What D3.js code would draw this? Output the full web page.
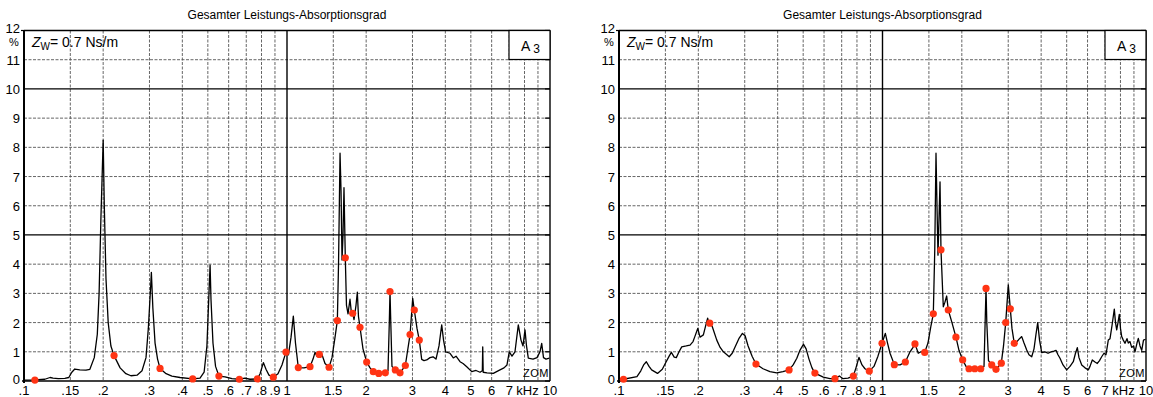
<!DOCTYPE html>
<html>
<head>
<meta charset="utf-8">
<script src="https://cdn.jsdelivr.net/npm/d3@7/dist/d3.min.js"></script>
<style>
  body { margin: 0; background: #fff; }
  text { font-family: "Liberation Sans", Arial, sans-serif; fill: #000; }
</style>
</head>
<body>
<div id="chart"></div>
<script>
// frequency in kHz, absorption in %
var leftCurve = [
  [0.100,0.03],[0.110,0.04],[0.120,0.06],[0.1256,0.12],[0.129,0.10],[0.135,0.08],[0.143,0.09],
  [0.148,0.12],[0.152,0.30],[0.156,0.41],[0.163,0.38],[0.172,0.37],[0.178,0.40],[0.185,0.80],
  [0.190,1.6],[0.193,3.0],[0.196,5.5],[0.200,8.25],[0.202,6.0],[0.205,3.5],[0.209,2.0],
  [0.214,1.2],[0.220,0.87],[0.232,0.45],[0.244,0.25],[0.255,0.18],[0.269,0.20],[0.281,0.35],
  [0.291,0.80],[0.297,1.8],[0.303,3.2],[0.305,3.72],[0.309,2.5],[0.315,1.3],[0.322,0.75],
  [0.329,0.43],[0.347,0.25],[0.365,0.17],[0.392,0.12],[0.438,0.07],[0.467,0.10],[0.484,0.30],
  [0.496,1.2],[0.505,3.0],[0.510,3.97],[0.514,2.8],[0.523,1.3],[0.535,0.50],[0.551,0.17],
  [0.581,0.14],[0.618,0.08],[0.659,0.06],[0.692,0.10],[0.723,0.06],[0.771,0.07],[0.790,0.25],
  [0.813,0.63],[0.832,0.40],[0.854,0.20],[0.887,0.13],[0.924,0.25],[0.957,0.55],[0.991,0.99],
  [1.013,0.90],[1.036,1.5],[1.057,2.22],[1.077,1.3],[1.104,0.46],[1.160,0.45],[1.223,0.49],
  [1.256,0.75],[1.278,0.98],[1.300,0.85],[1.327,0.91],[1.359,0.90],[1.395,0.60],[1.445,0.47],
  [1.483,0.80],[1.523,1.5],[1.554,2.07],[1.570,4.0],[1.591,7.8],[1.605,6.5],[1.619,4.14],
  [1.633,5.0],[1.647,6.62],[1.666,4.22],[1.683,2.6],[1.706,2.3],[1.736,2.8],[1.759,2.3],
  [1.777,2.32],[1.798,2.1],[1.830,2.6],[1.851,3.04],[1.870,2.2],[1.895,1.84],[1.945,1.1],
  [2.009,0.65],[2.069,0.45],[2.129,0.32],[2.233,0.26],[2.365,0.28],[2.421,0.35],[2.449,2.0],
  [2.464,3.06],[2.481,2.0],[2.507,0.50],[2.581,0.38],[2.690,0.28],[2.818,0.53],[2.937,1.59],
  [3.006,2.83],[3.048,2.43],[3.121,1.8],[3.184,1.4],[3.252,0.74],[3.318,0.70],[3.398,0.72],
  [3.497,0.80],[3.590,0.83],[3.686,0.75],[3.784,1.2],[3.875,1.92],[3.937,1.4],[4.012,1.0],
  [4.167,0.95],[4.289,0.79],[4.392,0.85],[4.549,0.66],[4.670,0.60],[4.824,0.49],[5.040,0.32],
  [5.233,0.36],[5.419,0.30],[5.530,0.35],[5.549,1.17],[5.572,0.30],[5.761,0.28],[6.087,0.26],
  [6.454,0.38],[6.684,0.45],[6.862,0.55],[7.001,1.0],[7.169,0.85],[7.360,1.0],[7.577,1.92],
  [7.757,1.4],[7.895,1.2],[8.034,1.75],[8.141,1.2],[8.270,0.78],[8.617,0.75],[8.925,0.80],
  [9.162,1.0],[9.299,1.29],[9.447,0.80],[9.656,0.75],[9.94,0.78]
];
var leftDots = [
  [0.110,0.03],[0.220,0.87],[0.329,0.43],[0.438,0.07],[0.551,0.17],[0.659,0.06],[0.771,0.07],
  [0.887,0.13],[0.991,0.99],[1.104,0.46],[1.223,0.49],[1.327,0.91],[1.445,0.47],[1.554,2.07],
  [1.666,4.22],[1.777,2.32],[1.895,1.84],[2.009,0.65],[2.129,0.32],[2.233,0.26],[2.365,0.28],
  [2.464,3.06],[2.581,0.38],[2.690,0.28],[2.818,0.53],[2.937,1.59],[3.048,2.43],[3.184,1.4]
];
var rightCurve = [
  [0.101,0.07],[0.104,0.06],[0.117,0.15],[0.121,0.35],[0.124,0.55],[0.127,0.66],[0.130,0.50],
  [0.133,0.38],[0.140,0.26],[0.146,0.40],[0.150,0.61],[0.155,0.85],[0.158,0.98],[0.162,0.82],
  [0.165,0.80],[0.169,1.0],[0.173,1.17],[0.180,1.2],[0.186,1.23],[0.191,1.35],[0.194,1.52],
  [0.199,1.8],[0.203,1.5],[0.209,1.58],[0.214,1.95],[0.217,2.15],[0.2196,1.95],[0.2214,1.98],
  [0.226,1.86],[0.235,1.4],[0.242,1.15],[0.249,1.0],[0.262,0.83],[0.269,0.95],[0.276,1.17],
  [0.285,1.45],[0.294,1.63],[0.301,1.55],[0.309,1.2],[0.320,0.85],[0.331,0.58],[0.352,0.42],
  [0.374,0.32],[0.397,0.28],[0.419,0.32],[0.442,0.38],[0.458,0.55],[0.473,0.78],[0.486,1.05],
  [0.501,1.26],[0.513,1.1],[0.526,0.75],[0.540,0.45],[0.554,0.27],[0.596,0.13],[0.632,0.08],
  [0.660,0.08],[0.686,0.17],[0.708,0.08],[0.740,0.10],[0.775,0.17],[0.793,0.45],[0.814,0.81],
  [0.836,0.55],[0.858,0.42],[0.891,0.34],[0.928,0.50],[0.961,0.85],[0.996,1.29],[1.025,1.63],
  [1.045,1.3],[1.068,0.95],[1.109,0.56],[1.166,0.55],[1.221,0.65],[1.272,1.0],[1.306,1.15],
  [1.328,1.27],[1.367,0.95],[1.400,1.0],[1.446,0.98],[1.488,1.3],[1.528,1.9],[1.559,2.3],
  [1.579,4.5],[1.596,7.8],[1.610,6.0],[1.624,4.31],[1.638,5.5],[1.653,6.82],[1.667,4.49],
  [1.701,2.54],[1.726,2.7],[1.752,2.91],[1.777,2.43],[1.835,2.0],[1.900,1.5],[1.951,1.05],
  [2.015,0.72],[2.075,0.50],[2.130,0.42],[2.187,0.45],[2.239,0.42],[2.295,0.45],[2.359,0.42],
  [2.428,0.50],[2.455,2.2],[2.471,3.17],[2.488,2.0],[2.525,0.70],[2.597,0.55],[2.696,0.40],
  [2.824,0.61],[2.879,1.2],[2.935,2.0],[3.002,3.29],[3.055,2.47],[3.100,1.8],[3.163,1.29],
  [3.239,1.35],[3.311,1.45],[3.376,1.52],[3.444,1.3],[3.526,1.06],[3.597,0.90],[3.684,0.83],
  [3.758,1.1],[3.824,1.6],[3.882,2.0],[3.944,1.4],[4.021,0.97],[4.138,1.0],[4.248,0.95],
  [4.361,1.0],[4.477,1.02],[4.555,1.05],[4.634,0.90],[4.717,0.78],[4.842,0.55],[5.0,0.38],
  [5.147,0.50],[5.297,0.66],[5.400,0.95],[5.487,1.14],[5.568,0.80],[5.702,0.55],[5.869,0.45],
  [6.040,0.38],[6.130,0.50],[6.254,0.72],[6.404,0.65],[6.534,0.60],[6.661,0.70],[6.789,0.83],
  [6.927,0.95],[7.05,0.90],[7.193,1.4],[7.302,1.45],[7.431,1.9],[7.581,2.46],[7.661,2.0],
  [7.741,1.75],[7.829,2.0],[7.919,2.28],[8.002,1.8],[8.086,1.52],[8.200,1.4],[8.322,1.29],
  [8.470,1.45],[8.566,1.3],[8.695,1.35],[8.825,1.15],[8.965,1.2],[9.084,1.0],[9.243,1.3],
  [9.35,1.46],[9.489,1.2],[9.632,1.05],[9.784,1.4],[9.956,1.43]
];
var rightDots = [
  [0.104,0.06],[0.221,1.98],[0.331,0.58],[0.442,0.38],[0.554,0.27],[0.660,0.08],[0.775,0.17],
  [0.891,0.34],[0.996,1.29],[1.109,0.56],[1.221,0.65],[1.328,1.27],[1.446,0.98],[1.559,2.3],
  [1.667,4.49],[1.777,2.43],[1.900,1.5],[2.015,0.72],[2.130,0.42],[2.239,0.42],[2.359,0.42],
  [2.471,3.17],[2.597,0.55],[2.696,0.40],[2.824,0.61],[2.935,2.0],[3.055,2.47],[3.163,1.29]
];

var xGridMinor = [0.15,0.2,0.3,0.4,0.5,0.6,0.7,0.8,0.9,1.5,2,3,4,5,6,7,8,9];
var xGridMajor = [1];
var yGridMinor = [1,2,3,4,6,7,8,9,11];
var yGridMajor = [5,10];
var xTickVals = [0.1,0.15,0.2,0.3,0.4,0.5,0.6,0.7,0.8,0.9,1,1.5,2,3,4,5,6,7,10];
var xTickText = [".1",".15",".2",".3",".4",".5",".6",".7",".8",".9","1","1.5","2","3","4","5","6","7","10"];
var yTickVals = [0,1,2,3,4,5,6,7,8,9,10,11,12];

var title = "Gesamter Leistungs-Absorptionsgrad";

var W = 1153, H = 397;
var plotTop = 30.5, plotBottom = 381;

var svg = d3.select('#chart').append('svg')
  .attr('width', W).attr('height', H);

var panels = [
  { left: 24, right: 550, curve: leftCurve, dots: leftDots },
  { left: 619, right: 1146, curve: rightCurve, dots: rightDots }
];

panels.forEach(function(p) {
  var x = d3.scaleLog().domain([0.1, 10]).range([p.left, p.right]);
  var y = d3.scaleLinear().domain([0, 12]).range([plotBottom, plotTop]);
  var g = svg.append('g');

  // grid
  g.selectAll('.vmin').data(xGridMinor).enter().append('line')
    .attr('x1', function(d) { return x(d); }).attr('x2', function(d) { return x(d); })
    .attr('y1', plotTop).attr('y2', plotBottom)
    .attr('stroke', '#555').attr('stroke-width', 0.9).attr('stroke-dasharray', '3,1.5');
  g.selectAll('.hmin').data(yGridMinor).enter().append('line')
    .attr('x1', p.left).attr('x2', p.right)
    .attr('y1', function(d) { return y(d); }).attr('y2', function(d) { return y(d); })
    .attr('stroke', '#555').attr('stroke-width', 0.9).attr('stroke-dasharray', '3,1.5');
  g.selectAll('.vmaj').data(xGridMajor).enter().append('line')
    .attr('x1', function(d) { return x(d); }).attr('x2', function(d) { return x(d); })
    .attr('y1', plotTop).attr('y2', plotBottom)
    .attr('stroke', '#000').attr('stroke-width', 1.4);
  g.selectAll('.hmaj').data(yGridMajor).enter().append('line')
    .attr('x1', p.left).attr('x2', p.right)
    .attr('y1', function(d) { return y(d); }).attr('y2', function(d) { return y(d); })
    .attr('stroke', '#000').attr('stroke-width', 1.3);

  // right side inward ticks
  g.selectAll('.rt').data(yTickVals).enter().append('line')
    .attr('x1', p.right - 5).attr('x2', p.right)
    .attr('y1', function(d) { return y(d); }).attr('y2', function(d) { return y(d); })
    .attr('stroke', '#000').attr('stroke-width', 1.2);

  // frame
  g.append('line').attr('x1', p.left).attr('x2', p.right).attr('y1', plotTop).attr('y2', plotTop)
    .attr('stroke', '#000').attr('stroke-width', 1.4);
  g.append('line').attr('x1', p.right).attr('x2', p.right).attr('y1', plotTop).attr('y2', plotBottom)
    .attr('stroke', '#000').attr('stroke-width', 1.4);
  g.append('line').attr('x1', p.left - 2).attr('x2', p.right).attr('y1', plotBottom).attr('y2', plotBottom)
    .attr('stroke', '#000').attr('stroke-width', 1.6);
  g.append('line').attr('x1', p.left).attr('x2', p.left).attr('y1', plotTop).attr('y2', plotBottom + 2)
    .attr('stroke', '#000').attr('stroke-width', 2);
  g.append('line').attr('x1', p.left - 3).attr('x2', p.left).attr('y1', plotTop).attr('y2', plotTop)
    .attr('stroke', '#000').attr('stroke-width', 1.2);

  // "A 3" box
  g.append('rect').attr('x', p.right - 41).attr('y', plotTop).attr('width', 41).attr('height', 29)
    .attr('fill', '#fff').attr('stroke', '#000').attr('stroke-width', 1.2);
  var a = g.append('text').attr('x', p.right - 29).attr('y', plotTop + 20).attr('font-size', 14);
  a.append('tspan').text('A');
  a.append('tspan').attr('dx', 3).attr('dy', 2).attr('font-size', 12).text('3');

  // curve
  var line = d3.line()
    .x(function(d) { return x(d[0]); })
    .y(function(d) { return y(d[1]); });
  g.append('path').datum(p.curve).attr('d', line)
    .attr('fill', 'none').attr('stroke', '#000').attr('stroke-width', 1.3)
    .attr('stroke-linejoin', 'round');

  // dots
  g.selectAll('.dot').data(p.dots).enter().append('circle')
    .attr('cx', function(d) { return x(d[0]); })
    .attr('cy', function(d) { return y(d[1]); })
    .attr('r', 3.6).attr('fill', '#ff3414');

  // y labels
  g.selectAll('.yl').data(yTickVals).enter().append('text')
    .attr('x', p.left - 4)
    .attr('y', function(d) { return y(d) + (d === 12 ? 2 : (d === 0 ? 3 : 5)); })
    .attr('text-anchor', 'end').attr('font-size', 13)
    .text(function(d) { return d; });
  g.append('text').attr('x', p.left - 10).attr('y', plotTop + 15).attr('text-anchor', 'middle')
    .attr('font-size', 11).text('%');

  // x labels
  g.selectAll('.xl').data(xTickVals).enter().append('text')
    .attr('x', function(d) { return x(d); }).attr('y', 395)
    .attr('text-anchor', 'middle').attr('font-size', 13)
    .text(function(d, i) { return xTickText[i]; });
  g.append('text').attr('x', x(8) + 3).attr('y', 395).attr('text-anchor', 'middle')
    .attr('font-size', 13).text('kHz');

  // ZOM mark
  g.append('text').attr('x', p.right - 14).attr('y', plotBottom - 4).attr('text-anchor', 'middle')
    .attr('font-size', 11).attr('letter-spacing', 0.5).text('ZOM');

  // Z_W label
  var z = g.append('text').attr('x', p.left + 8).attr('y', plotTop + 16).attr('font-size', 14);
  z.append('tspan').attr('font-style', 'italic').text('Z');
  z.append('tspan').attr('font-size', 10).attr('dy', 3).text('W');
  z.append('tspan').attr('dy', -3).text('= 0.7 Ns/m');

  // title
  svg.append('text').attr('x', (p.left + p.right) / 2).attr('y', 19)
    .attr('text-anchor', 'middle').attr('font-size', 12).text(title);
});
</script>
</body>
</html>
